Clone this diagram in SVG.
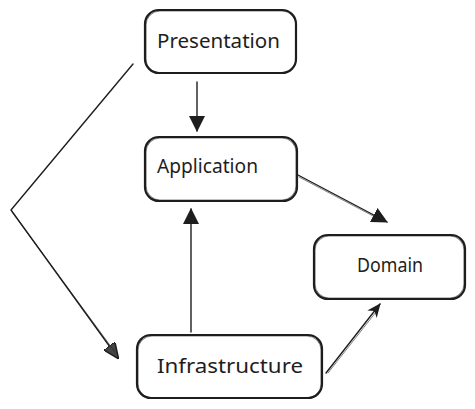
<svg xmlns="http://www.w3.org/2000/svg" width="475" height="409" viewBox="0 0 475 409">
  <style>
    .box { fill: #ffffff; stroke: #1e1e1e; stroke-width: 2.2; }
    .box2 { fill: none; stroke: #1e1e1e; stroke-width: 1; opacity: 0.55; }
    .label { font-family: "Noto Sans", "DejaVu Sans", sans-serif; font-size: 19px; fill: #1e1e1e; }
    .wire { fill: none; stroke: #1e1e1e; stroke-width: 1.4; stroke-linecap: round; stroke-linejoin: round; }
    .wire2 { fill: none; stroke: #1e1e1e; stroke-width: 0.8; stroke-linecap: round; opacity: 0.7; }
  </style>
  <defs>
    <marker id="head" viewBox="0 0 16 16" refX="15" refY="8" markerWidth="16" markerHeight="16" markerUnits="userSpaceOnUse" orient="auto">
      <path d="M0,0 L16,8 L0,16 Z" fill="#1e1e1e"/>
    </marker>
    <marker id="headSmall" viewBox="0 0 14 12" refX="13" refY="6" markerWidth="14" markerHeight="12" markerUnits="userSpaceOnUse" orient="auto">
      <path d="M0,0 L14,6 L0,12 L4,6 Z" fill="#1e1e1e"/>
    </marker>
    <marker id="headOpen" viewBox="0 0 16 14" refX="15" refY="7" markerWidth="16" markerHeight="14" markerUnits="userSpaceOnUse" orient="auto">
      <path d="M0,0 L16,7 L0,14 Z" fill="#444" stroke="#1e1e1e" stroke-width="1.5" stroke-linejoin="round"/>
    </marker>
  </defs>

  <g id="connectors">
    <!-- Presentation to Application -->
    <path class="wire" d="M197,82 L197,131" marker-end="url(#head)"/>
    <!-- Infrastructure to Application -->
    <path class="wire" d="M191,332 L191,209" marker-end="url(#head)"/>
    <!-- Application to Domain -->
    <path class="wire" d="M298,175 L387,222" marker-end="url(#head)"/>
    <path class="wire2" d="M299,177 L375,217"/>
    <!-- Infrastructure to Domain -->
    <path class="wire" d="M326,373 L380,304" marker-end="url(#headSmall)"/>
    <path class="wire2" d="M328,373 L376,312"/>
    <!-- Presentation around to Infrastructure -->
    <path class="wire" d="M133,64 L11,210 L118,358" marker-end="url(#headOpen)"/>
    <path class="wire2" d="M12,212 L115,352"/>
  </g>

  <g id="presentation">
    <rect class="box" x="145" y="10" width="151" height="63" rx="14"/>
    <rect class="box2" x="146" y="11" width="150" height="62" rx="14"/>
    <text class="label" x="218.5" y="48" text-anchor="middle" textLength="123" lengthAdjust="spacingAndGlyphs">Presentation</text>
  </g>

  <g id="application">
    <rect class="box" x="145" y="137" width="152" height="64" rx="14"/>
    <rect class="box2" x="146" y="138" width="150" height="62" rx="14"/>
    <text class="label" x="207.5" y="173" text-anchor="middle" textLength="101" lengthAdjust="spacingAndGlyphs">Application</text>
  </g>

  <g id="domain">
    <rect class="box" x="314" y="235" width="151" height="64" rx="14"/>
    <rect class="box2" x="315" y="236" width="149" height="62" rx="14"/>
    <text class="label" x="390" y="272" text-anchor="middle" textLength="66" lengthAdjust="spacingAndGlyphs">Domain</text>
  </g>

  <g id="infrastructure">
    <rect class="box" x="137" y="335" width="185" height="63" rx="14"/>
    <rect class="box2" x="138" y="336" width="183" height="62" rx="14"/>
    <text class="label" x="230" y="373" text-anchor="middle" textLength="146" lengthAdjust="spacingAndGlyphs">Infrastructure</text>
  </g>
</svg>
